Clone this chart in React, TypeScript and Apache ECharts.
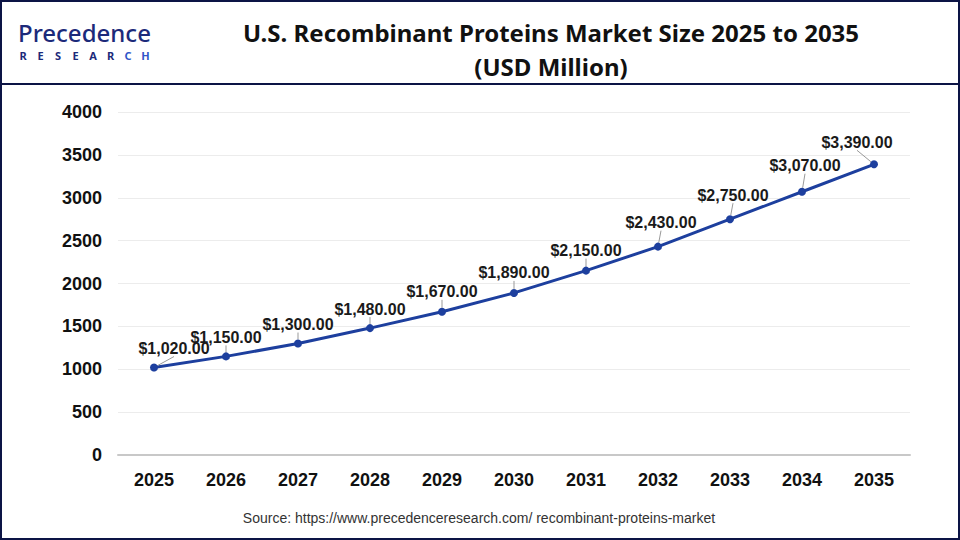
import React, { useEffect, useRef } from "react";
import * as echarts from "echarts";

const years = ["2025", "2026", "2027", "2028", "2029", "2030", "2031", "2032", "2033", "2034", "2035"];
const marketSize = [1020, 1150, 1300, 1480, 1670, 1890, 2150, 2430, 2750, 3070, 3390];
const yTicks = { min: 0, max: 4000, interval: 500 };

const labelShift: Array<[number, number]> = [
  [20, -19], [0, -19], [0, -19], [0, -19], [0, -20], [0, -20],
  [0, -20], [3, -24], [3, -24], [3, -26], [-17, -22],
];

const logoLetters = ["R", "E", "S", "E", "A", "R", "C", "H"];

export default function App() {
  const ref = useRef<HTMLDivElement>(null);
  useEffect(() => {
    if (!ref.current) return;
    const chart = echarts.init(ref.current, null, { renderer: "svg" });
    const letterEls = logoLetters.map((ch, i) => ({
      type: "text",
      x: 23 + i * 17.5,
      y: 55,
      style: {
        text: ch,
        fill: i >= 6 ? "#2f56c8" : "#1c2a7a",
        font: "bold 11px 'Noto Sans', Roboto, sans-serif",
        align: "center",
        verticalAlign: "middle",
      },
    }));
    chart.setOption({
      animation: false,
      backgroundColor: "#ffffff",
      grid: { left: 118, right: 50, top: 112, bottom: 85 },
      xAxis: {
        type: "category",
        data: years,
        boundaryGap: true,
        axisLine: { show: true, lineStyle: { color: "#c8c8c8", width: 2 } },
        axisTick: { show: false },
        axisLabel: {
          color: "#111",
          fontSize: 18,
          fontWeight: "bold",
          fontFamily: "Liberation Sans, Arial, sans-serif",
          margin: 16,
        },
      },
      yAxis: {
        type: "value",
        min: yTicks.min,
        max: yTicks.max,
        interval: yTicks.interval,
        axisLine: { show: false },
        axisTick: { show: false },
        splitLine: { lineStyle: { color: "#ececec", width: 1 } },
        axisLabel: {
          color: "#111",
          fontSize: 18,
          fontWeight: "bold",
          fontFamily: "Liberation Sans, Arial, sans-serif",
          margin: 16,
          formatter: (v: number) => String(v),
        },
      },
      series: [
        {
          type: "line",
          data: marketSize,
          symbol: "circle",
          symbolSize: 8,
          lineStyle: { color: "#1d3f9e", width: 3 },
          itemStyle: { color: "#1d3f9e" },
          label: {
            show: true,
            position: "inside",
            color: "#1a1a1a",
            fontSize: 16,
            fontWeight: "bold",
            fontFamily: "Liberation Sans, Arial, sans-serif",
            formatter: (p: any) =>
              "$" + Number(p.value).toLocaleString("en-US", { minimumFractionDigits: 2, maximumFractionDigits: 2 }),
          },
          labelLine: { show: true, lineStyle: { color: "#999", width: 1 } },
          labelLayout: (p: any) => {
            const s = labelShift[p.dataIndex] || [0, -20];
            return { dx: s[0], dy: s[1] };
          },
        },
      ],
      graphic: [
        {
          type: "rect",
          shape: { x: 1, y: 1, width: 958, height: 538 },
          style: { fill: "none", stroke: "#0c1445", lineWidth: 2 },
          silent: true,
          z: 100,
        },
        {
          type: "line",
          shape: { x1: 0, y1: 84, x2: 960, y2: 84 },
          style: { stroke: "#0c1445", lineWidth: 2 },
          silent: true,
        },
        {
          type: "text",
          x: 551,
          y: 32,
          style: {
            text: "U.S. Recombinant Proteins Market Size 2025 to 2035",
            fill: "#111",
            font: "bold 24px 'Noto Sans', 'Open Sans', sans-serif",
            align: "center",
            verticalAlign: "middle",
          },
        },
        {
          type: "text",
          x: 551,
          y: 66,
          style: {
            text: "(USD Million)",
            fill: "#111",
            font: "bold 24px 'Noto Sans', 'Open Sans', sans-serif",
            align: "center",
            verticalAlign: "middle",
          },
        },
        {
          type: "text",
          x: 18,
          y: 32,
          style: {
            text: "Precedence",
            fill: "#1c2a7a",
            font: "500 24px 'Noto Sans', Roboto, sans-serif",
            verticalAlign: "middle",
          },
        },
        ...letterEls,
        {
          type: "text",
          x: 479,
          y: 518,
          style: {
            text: "Source: https://www.precedenceresearch.com/ recombinant-proteins-market",
            fill: "#333",
            font: "14px 'Liberation Sans', Arial, sans-serif",
            align: "center",
            verticalAlign: "middle",
          },
        },
      ],
    });
    return () => chart.dispose();
  }, []);
  return <div ref={ref} style={{ position: "fixed", left: 0, top: 0, width: 960, height: 540 }} />;
}
